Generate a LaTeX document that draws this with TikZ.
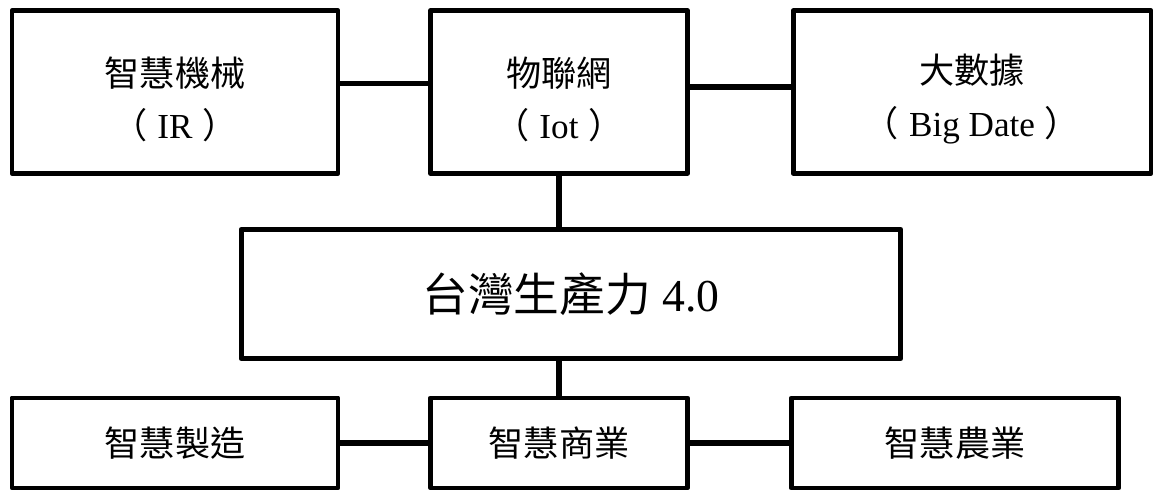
\documentclass[tikz,border=0pt]{standalone}
\usepackage{fontspec}
\setmainfont{Liberation Serif}
\newfontfamily\cjk{Noto Sans CJK TC}
\newcommand{\zh}[1]{{\cjk #1}}
\usetikzlibrary{calc,positioning}
\tikzset{
  boks/.style={
    rectangle,
    draw=black, line width=2.8pt,
    line join=round,
    inner sep=0pt,
    align=center,
    font=\fontsize{20}{30}\selectfont},
  toplabel/.style={text height=1.94cm},
  line/.style={draw, line width=3.4pt}
}

\begin{document}
\begin{tikzpicture}[x=0.02cm, y=-0.02cm]
    \useasboundingbox (0,0) rectangle (1155,492);

    % top row
    \node[boks, toplabel, minimum width=6.52cm, minimum height=3.25cm] (IR) at (175,92)
        {\zh{智慧機械}\\\zh{（}\hspace{0.2cm}IR\hspace{0.2cm}\zh{）}};
    \node[boks, toplabel, minimum width=5.14cm, minimum height=3.25cm] (IoT) at (559,92)
        {\zh{物聯網}\\\zh{（}\hspace{0.2cm}Iot\hspace{0.2cm}\zh{）}};
    \node[boks, toplabel, minimum width=7.16cm, minimum height=3.25cm] (BD) at (972,92)
        {\zh{大數據}\\\zh{（}\hspace{0.2cm}Big Date\hspace{0.2cm}\zh{）}};

    % middle
    \node[boks, minimum width=13.2cm, minimum height=2.58cm,
          font=\fontsize{26}{30}\selectfont] (TW) at (571,294)
        {\zh{台灣生產力} 4.0};

    % bottom row
    \node[boks, minimum width=6.52cm, minimum height=1.8cm] (MF) at (175,443)
        {\zh{智慧製造}};
    \node[boks, minimum width=5.14cm, minimum height=1.8cm] (CM) at (559,443)
        {\zh{智慧商業}};
    \node[boks, minimum width=6.55cm, minimum height=1.8cm] (AG) at (955,443)
        {\zh{智慧農業}};

    \draw[line] ([yshift=0.17cm]IR.east) -- ([yshift=0.17cm]IR.east -| IoT.west);
    \draw[line] ([yshift=0.1cm]IoT.east) -- ([yshift=0.1cm]IoT.east -| BD.west);
    \draw[line] (IoT.south) -- (IoT.south |- TW.north);
    \draw[line] (CM.north |- TW.south) -- (CM.north);
    \draw[line] (MF.east) -- (CM.west);
    \draw[line] (CM.east) -- (AG.west);
\end{tikzpicture}
\end{document}
